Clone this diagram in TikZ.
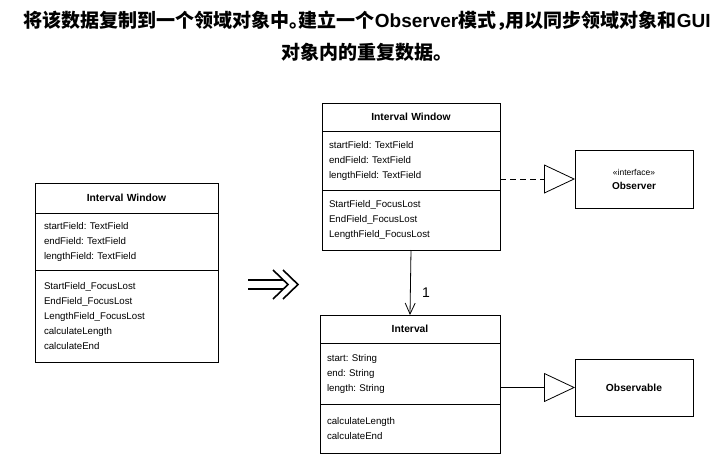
\documentclass[tikz,border=0pt]{standalone}
\usepackage{fontspec}
\setmainfont{Liberation Sans}
\newfontfamily\cjk{Noto Sans CJK SC}
\usetikzlibrary{arrows.meta,positioning}
\newcommand{\classfont}{\fontsize{9.7}{15}\selectfont}
\newcommand{\lat}[1]{{\rmfamily\fontsize{19}{32}\selectfont #1}}
\newcommand{\halfp}[1]{\makebox[0.5em][l]{#1}}
\frenchspacing

\begin{document}
\begin{tikzpicture}[x=1pt,y=-1pt,line width=0.8pt,
	part/.style={draw, outer sep=0pt, inner xsep=7pt, inner ysep=0pt, text width=#1, align=left, font=\classfont},
	cname/.style={part=#1, align=center, font=\fontsize{10.3}{15}\selectfont\bfseries},
	iface/.style={draw, outer sep=0pt, minimum width=118, minimum height=58, align=center, font=\classfont},
	inherit/.style={-{Triangle[open,length=31pt,width=29pt]}},
	realize/.style={inherit, dash pattern=on 6pt off 4pt},
	assoc/.style={-{Straight Barb[length=11pt,width=10pt]}}]
	\useasboundingbox (0,0) rectangle (726,472);
	% heading
	\node (head) at (367,36)	[align=center, font=\cjk\bfseries\fontsize{19}{32}\selectfont]	{将该数据复制到一个领域对象中\halfp{。}建立一个\lat{Observer}模式\halfp{，}用以同步领域对象和\lat{GUI}\\对象内的重复数据。};
	% before
	\node (oldT) at (126.5,198)	[cname=169, minimum height=30]	{Interval Window};
	\node (oldA)	[part=165, inner xsep=9pt, minimum height=57, below=0pt of oldT]	{startField: TextField\\endField: TextField\\lengthField: TextField};
	\node (oldM)	[part=165, inner xsep=9pt, minimum height=92, below=0pt of oldA]	{StartField\_FocusLost\\EndField\_FocusLost\\LengthField\_FocusLost\\calculateLength\\calculateEnd};
	% rewrite sign
	\draw[line width=1.6pt] (248,280) -- (283,280) (248,289) -- (283,289)
		(273,270) -- (288,284.5) -- (273,299) (283,270) -- (298,284.5) -- (283,299);
	% after
	\node (newT) at (411,117)	[cname=164, minimum height=28]	{Interval Window};
	\node (newA)	[part=164, minimum height=59, below=0pt of newT]	{startField: TextField\\endField: TextField\\lengthField: TextField};
	\node (newM)	[part=164, minimum height=60, below=0pt of newA]	{StartField\_FocusLost\\EndField\_FocusLost\\LengthField\_FocusLost};
	\node (intT) at (410,329)	[cname=166, minimum height=28]	{Interval};
	\node (intA)	[part=166, minimum height=61, below=0pt of intT]	{start: String\\end: String\\length: String};
	\node (intM)	[part=166, minimum height=49, below=0pt of intA]	{calculateLength\\calculateEnd};
	\node (obs) at (634,179)	[iface, font=\fontsize{10}{14}\selectfont]	{{\fontsize{8.5}{10}\selectfont «interface»}\\\textbf{Observer}};
	\node (obl) at (634,387.5)	[iface, minimum height=57, font=\fontsize{10.3}{15}\selectfont\bfseries]	{Observable};
	\draw[realize] (newA.east |- obs.west) -- (obs.west);
	\draw[inherit] (intA.east |- obl.west) -- (obl.west);
	\draw[assoc] (newM.south) -- (intT.north) node[pos=0.66, right=8pt, font=\fontsize{14}{14}\selectfont] {1};
\end{tikzpicture}
\end{document}
